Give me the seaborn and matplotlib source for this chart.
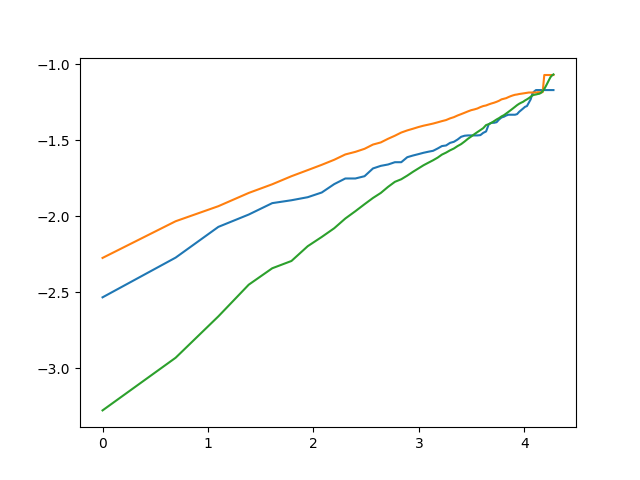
import numpy as np
import pandas as pd
import matplotlib
matplotlib.use("Agg")
import matplotlib.pyplot as plt
import seaborn as sns

ranks = list(range(1, 73))

blue = [-2.533, -2.272, -2.070, -1.989, -1.914, -1.895, -1.875, -1.844, -1.789, -1.752,
        -1.752, -1.737, -1.686, -1.669, -1.660, -1.645, -1.645, -1.612, -1.601, -1.592,
        -1.583, -1.576, -1.570, -1.555, -1.539, -1.535, -1.518, -1.511, -1.496, -1.478,
        -1.471, -1.469, -1.469, -1.469, -1.469, -1.467, -1.452, -1.443, -1.395, -1.386,
        -1.386, -1.382, -1.364, -1.351, -1.346, -1.338, -1.333, -1.333, -1.333, -1.333,
        -1.329, -1.314, -1.303, -1.292, -1.281, -1.276, -1.254, -1.232, -1.193, -1.180,
        -1.171, -1.171, -1.171, -1.171, -1.171, -1.171, -1.171, -1.171, -1.171, -1.171,
        -1.171, -1.171]

orange = [-2.274, -2.033, -1.934, -1.847, -1.790, -1.737, -1.697, -1.662, -1.629, -1.594,
          -1.577, -1.557, -1.529, -1.515, -1.491, -1.471, -1.450, -1.436, -1.425, -1.414,
          -1.405, -1.398, -1.391, -1.383, -1.375, -1.368, -1.357, -1.349, -1.338, -1.329,
          -1.320, -1.311, -1.303, -1.298, -1.292, -1.283, -1.276, -1.272, -1.265, -1.259,
          -1.254, -1.248, -1.241, -1.232, -1.228, -1.224, -1.217, -1.211, -1.206, -1.202,
          -1.200, -1.197, -1.195, -1.193, -1.191, -1.189, -1.187, -1.187, -1.187, -1.187,
          -1.187, -1.185, -1.185, -1.185, -1.185, -1.072, -1.072, -1.072, -1.072, -1.072,
          -1.072, -1.072]

green = [-3.276, -2.930, -2.658, -2.450, -2.342, -2.294, -2.197, -2.136, -2.079, -2.015,
         -1.967, -1.921, -1.880, -1.847, -1.807, -1.774, -1.757, -1.733, -1.708, -1.686,
         -1.665, -1.648, -1.632, -1.615, -1.595, -1.582, -1.567, -1.555, -1.539, -1.526,
         -1.509, -1.491, -1.476, -1.461, -1.447, -1.434, -1.421, -1.401, -1.395, -1.386,
         -1.375, -1.364, -1.355, -1.344, -1.336, -1.325, -1.314, -1.303, -1.292, -1.281,
         -1.270, -1.261, -1.254, -1.248, -1.239, -1.232, -1.224, -1.215, -1.206, -1.202,
         -1.200, -1.197, -1.195, -1.189, -1.178, -1.164, -1.145, -1.125, -1.105, -1.086,
         -1.075, -1.068]

series_names = ["s1", "s2", "s3"]
log_rank = np.log(np.array(ranks, dtype=float))

df = pd.concat([
    pd.DataFrame({"x": log_rank, "y": vals, "series": name})
    for name, vals in zip(series_names, [blue, orange, green])
], ignore_index=True)

fig, ax = plt.subplots(figsize=(6.4, 4.8), dpi=100)
sns.lineplot(data=df, x="x", y="y", hue="series", ax=ax,
             palette=["#1f77b4", "#ff7f0e", "#2ca02c"], linewidth=1.5, legend=False)
ax.set_xlabel("")
ax.set_ylabel("")
fig.savefig("out.png", dpi=100)
